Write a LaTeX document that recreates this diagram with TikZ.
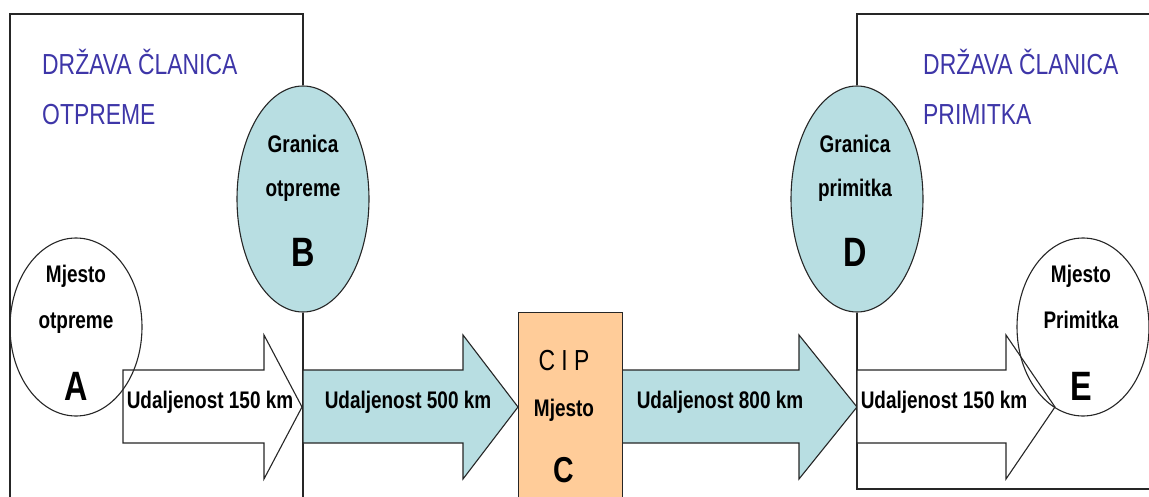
\documentclass[tikz,border=0pt]{standalone}
\usepackage{fontspec}
\usepackage{xcolor}
\usetikzlibrary{positioning, shapes.geometric}
\newfontfamily\narrowfont[FakeStretch=0.79]{Liberation Sans}
\definecolor{bordercyan}{RGB}{184,222,226}
\definecolor{cippeach}{RGB}{255,204,153}
\definecolor{stateblue}{RGB}{62,54,168}
% block arrow: fill, body start, head start, tip
\newcommand\blockarrow[4]{%
  \draw[frame, fill=#1] (#2,370) -- (#3,370) -- (#3,335) -- (#4,407)
    -- (#3,479) -- (#3,443) -- (#2,443) -- cycle;}

\begin{document}
\begin{tikzpicture}[
  x=1pt, y=-1pt,
  every node/.style={inner sep=0pt},
  frame/.style={draw=black!85, line width=1.1pt},
  place/.style={ellipse, frame, minimum width=132pt, minimum height=178pt},
  border/.style={place, fill=bordercyan, minimum height=226pt},
  title/.style={font=\narrowfont\fontsize{29}{29}\selectfont, text=stateblue, anchor=base west},
  lbl/.style={font=\narrowfont\bfseries\fontsize{24}{24}\selectfont, anchor=base},
  letter/.style={font=\narrowfont\bfseries\fontsize{41}{41}\selectfont, anchor=base}
]
\useasboundingbox (0,0) rectangle (1149,497);
\clip (0,0) rectangle (1149,497);

% member states
\node[border] (B) at (303,199) {};
\node[border] (D) at (857,199) {};
\draw[frame] (B.north) -- (303,14) -- (10,14) -- (10,520);
\draw[frame] (B.south) -- (303,520);
\draw[frame] (D.north) -- (857,14) -- (1170,14);
\draw[frame] (D.south) -- (857,489) -- (1170,489);

\node[title] (sendA) at (42,75)  {DRŽAVA ČLANICA};
\node[title] (sendB) at (42,125) {OTPREME};
\node[title] (recvA) at (923,75)  {DRŽAVA ČLANICA};
\node[title] (recvB) at (923,125) {PRIMITKA};

\node[lbl]    (Bgr) at (303,153) {Granica};
\node[lbl]    (Bot) at (303,197) {otpreme};
\node[letter] (Blt) at (303,267) {B};
\node[lbl]    (Dgr) at (855,153) {Granica};
\node[lbl]    (Dpr) at (855,197) {primitka};
\node[letter] (Dlt) at (855,267) {D};

% distances
\blockarrow{white}{123}{264}{302}
\blockarrow{bordercyan}{303}{463}{518}
\blockarrow{bordercyan}{622}{799}{857}
\blockarrow{white}{857}{1006}{1055}

\node[frame, fill=cippeach, anchor=north west,
      minimum width=104pt, minimum height=220pt] (C) at (518,312) {};
\node[font=\narrowfont\fontsize{29}{29}\selectfont, anchor=base] (Ccip) at (564,370) {C I P};
\node[lbl]    (Cmj) at (564,416) {Mjesto};
\node[letter, font=\narrowfont\bfseries\fontsize{36}{36}\selectfont] (Clt) at (564,482) {C};

\node[lbl] (d150a) at (210,408) {Udaljenost 150 km};
\node[lbl] (d500)  at (408,408) {Udaljenost 500 km};
\node[lbl] (d800)  at (720,408) {Udaljenost 800 km};
\node[lbl] (d150b) at (944,408) {Udaljenost 150 km};

% places of dispatch and arrival
\node[place] (A) at (76,327)   {};
\node[place] (E) at (1083,327) {};
\node[lbl]    (Amj) at (76,283)  {Mjesto};
\node[lbl]    (Aot) at (76,328)  {otpreme};
\node[letter] (Alt) at (76,400)  {A};
\node[lbl]    (Emj) at (1081,283) {Mjesto};
\node[lbl]    (Epr) at (1081,328) {Primitka};
\node[letter] (Elt) at (1081,400) {E};
\end{tikzpicture}
\end{document}
